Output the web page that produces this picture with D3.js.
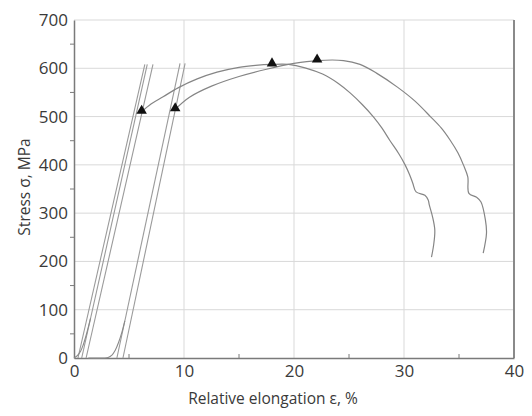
<!DOCTYPE html>
<html>
<head>
<meta charset="utf-8">
<script src="https://cdn.jsdelivr.net/npm/d3@7/dist/d3.min.js"></script>
<style>
  html, body { margin: 0; padding: 0; background: #fff; }
  svg text { font-family: "Open Sans", "Noto Sans", sans-serif; fill: #3a3a3a; }
</style>
</head>
<body>
<svg id="chart" width="532" height="416"></svg>
<script>
// ---- data (strain %, stress MPa) ----
const xTicks = [0, 10, 20, 30, 40];
const yTicks = [0, 100, 200, 300, 400, 500, 600, 700];
const xMinor = [5, 15, 25, 35];
const yMinor = [50, 150, 250, 350, 450, 550, 650];

// elastic loading lines, specimen group 1
const lineA1 = [[0.36, 0], [6.44, 608]];
const lineA2 = [[0.70, 0], [6.66, 608]];
const lineA3 = [[1.10, 0], [7.18, 608]];
// elastic loading lines, specimen group 2
const lineB1 = [[3.90, 0], [9.64, 610]];
const lineB2 = [[4.45, 0], [10.10, 610]];

// initial toe regions
const toeA = [[0, 0], [0.3, 5], [0.6, 14], [0.85, 28], [1.08, 45], [1.3, 64], [1.5, 82]];
const toeB = [[1.3, 0], [2.7, 0], [3.1, 1], [3.45, 6], [3.75, 16], [4.05, 32], [4.35, 53], [4.62, 77]];

// plastic part of curve 1
const curveA = [[6.15, 510], [7.0, 526], [8.1, 541], [9.5, 560], [11.2, 578], [13.0, 592],
  [15.0, 602], [16.5, 606], [18.0, 608], [19.5, 608], [21.0, 601], [22.6, 588], [24.0, 569],
  [25.1, 549], [26.2, 525], [27.2, 500], [28.0, 476], [28.7, 451], [29.5, 424], [30.1, 400],
  [30.5, 380], [30.8, 362], [31.1, 344], [31.9, 337], [32.2, 327], [32.3, 317], [32.6, 292],
  [32.8, 265], [32.7, 235], [32.5, 209]];
// plastic part of curve 2
const curveB = [[9.2, 515], [10.5, 540], [12.5, 563], [15.0, 583], [17.5, 598], [20.0, 610],
  [22.1, 616], [24.5, 616], [26.0, 608], [27.5, 590], [29.4, 561], [31.0, 532], [32.4, 500],
  [33.4, 476], [34.2, 451], [34.9, 425], [35.4, 400], [35.8, 375], [35.9, 341], [36.6, 333],
  [37.0, 323], [37.4, 286], [37.5, 259], [37.2, 217]];

// marked points (triangles)
const markers = [[6.15, 510], [9.2, 515], [18.0, 608], [22.1, 616]];

const xLabel = "Relative elongation \u03b5, %";
const yLabel = "Stress \u03c3, MPa";

// ---- layout ----
const svg = d3.select("#chart");
const m = { left: 74, top: 20, right: 18, bottom: 58 };
const W = 532, H = 416;
const x = d3.scaleLinear().domain([0, 40]).range([m.left, W - m.right]);
const y = d3.scaleLinear().domain([0, 700]).range([H - m.bottom, m.top]);

// grid
svg.append("g").selectAll("line").data(yTicks.slice(1)).join("line")
  .attr("x1", x(0)).attr("x2", x(40)).attr("y1", d => y(d)).attr("y2", d => y(d))
  .attr("stroke", "#d9d9d9").attr("stroke-width", 1);
svg.append("g").selectAll("line").data(xTicks.slice(1, -1)).join("line")
  .attr("y1", y(0)).attr("y2", y(700)).attr("x1", d => x(d)).attr("x2", d => x(d))
  .attr("stroke", "#d9d9d9").attr("stroke-width", 1);

// right border
svg.append("line").attr("x1", x(40)).attr("x2", x(40)).attr("y1", y(0)).attr("y2", y(700))
  .attr("stroke", "#8a8a8a").attr("stroke-width", 2);

// axes
const yAxis = d3.axisLeft(y).tickValues(yTicks).tickSize(0).tickPadding(6);
const gy = svg.append("g").attr("transform", `translate(${x(0)},0)`).call(yAxis);
gy.select(".domain").attr("stroke", "#7a7a7a").attr("stroke-width", 1.5);
gy.selectAll("text").attr("font-size", 17).attr("fill", "#3a3a3a");

const xAxis = d3.axisBottom(x).tickValues(xTicks).tickSize(0).tickPadding(7);
const gx = svg.append("g").attr("transform", `translate(0,${y(0)})`).call(xAxis);
gx.select(".domain").attr("stroke", "#7a7a7a").attr("stroke-width", 1.5);
gx.selectAll("text").attr("font-size", 17).attr("fill", "#3a3a3a");

// minor ticks
svg.append("g").selectAll("line").data(yMinor).join("line")
  .attr("x1", x(0) - 4).attr("x2", x(0)).attr("y1", d => y(d)).attr("y2", d => y(d))
  .attr("stroke", "#7a7a7a").attr("stroke-width", 1);
svg.append("g").selectAll("line").data(xMinor).join("line")
  .attr("y1", y(0) - 4).attr("y2", y(0)).attr("x1", d => x(d)).attr("x2", d => x(d))
  .attr("stroke", "#7a7a7a").attr("stroke-width", 1);

// curves
const line = d3.line().x(d => x(d[0])).y(d => y(d[1]));
const smooth = d3.line().x(d => x(d[0])).y(d => y(d[1])).curve(d3.curveCatmullRom.alpha(0.5));
const gc = svg.append("g").attr("fill", "none");
[lineA1, lineA2, lineA3, lineB1, lineB2].forEach(l => {
  gc.append("path").attr("d", line(l)).attr("stroke", "#9a9a9a").attr("stroke-width", 1.1);
});
[toeA, toeB].forEach(l => {
  gc.append("path").attr("d", smooth(l)).attr("stroke", "#8a8a8a").attr("stroke-width", 1.1);
});
[curveA, curveB].forEach(l => {
  gc.append("path").attr("d", smooth(l)).attr("stroke", "#858585").attr("stroke-width", 1.2);
});

// triangle markers
const tri = d3.symbol().type(d3.symbolTriangle).size(48);
svg.append("g").selectAll("path").data(markers).join("path")
  .attr("d", tri).attr("transform", d => `translate(${x(d[0])},${y(d[1]) - 1})`)
  .attr("fill", "#111");

// axis labels
svg.append("text").attr("x", 273).attr("y", 404).attr("text-anchor", "middle")
  .attr("font-size", 15.5).text(xLabel);
svg.append("text").attr("transform", `translate(30,${(y(0) + y(700)) / 2 - 2}) rotate(-90)`)
  .attr("text-anchor", "middle").attr("font-size", 15.5).text(yLabel);
</script>
</body>
</html>
